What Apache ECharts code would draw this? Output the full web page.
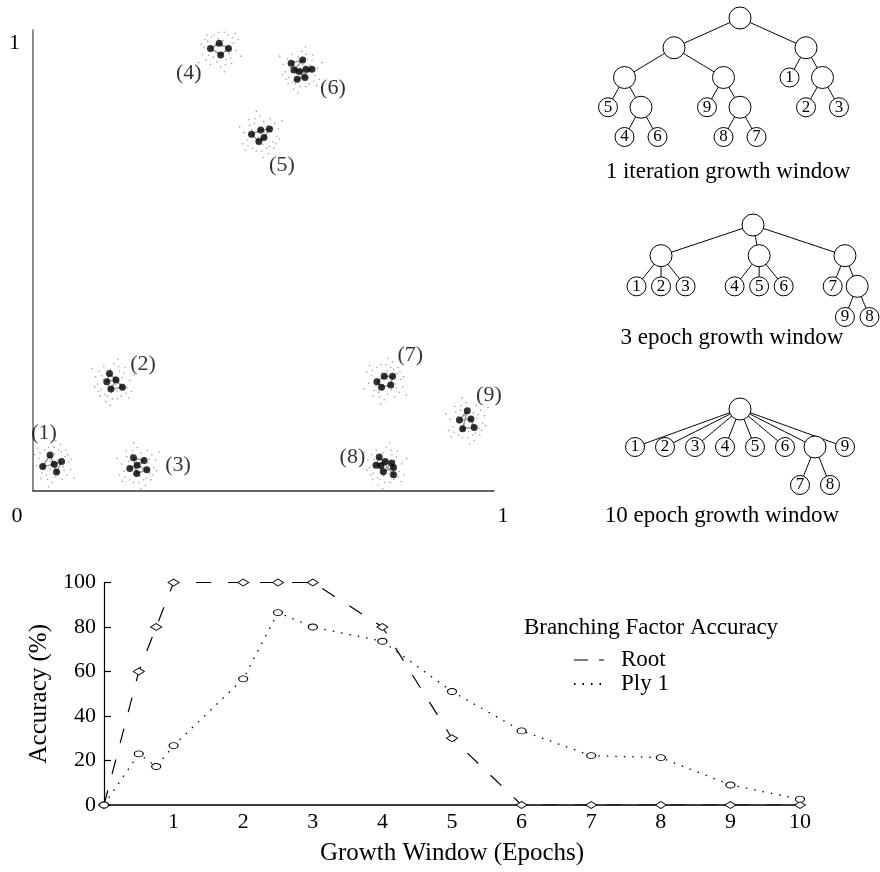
<!DOCTYPE html>
<html><head><meta charset="utf-8">
<script src="https://cdn.jsdelivr.net/npm/echarts@6/dist/echarts.min.js"></script>
<style>html,body{margin:0;padding:0;background:#fff}#c{width:880px;height:872px}</style>
</head><body><div id="c"></div>
<script>
// ---------- data ----------
const clusterNames = ['(1)','(2)','(3)','(4)','(5)','(6)','(7)','(8)','(9)'];
const clusterDots = [
  [[0.037,0.078],[0.021,0.053],[0.046,0.058],[0.062,0.064],[0.051,0.041]],
  [[0.166,0.255],[0.160,0.237],[0.180,0.241],[0.169,0.221],[0.194,0.225]],
  [[0.218,0.072],[0.241,0.066],[0.210,0.049],[0.226,0.056],[0.247,0.046],[0.225,0.038]],
  [[0.385,0.960],[0.404,0.971],[0.424,0.960],[0.407,0.946]],
  [[0.474,0.774],[0.494,0.783],[0.513,0.785],[0.501,0.767],[0.490,0.758]],
  [[0.560,0.928],[0.585,0.935],[0.566,0.913],[0.578,0.910],[0.592,0.915],[0.605,0.915],[0.573,0.893],[0.590,0.897]],
  [[0.746,0.237],[0.762,0.249],[0.780,0.249],[0.776,0.230],[0.756,0.225]],
  [[0.751,0.074],[0.744,0.056],[0.764,0.064],[0.755,0.055],[0.778,0.061],[0.760,0.042],[0.782,0.051],[0.782,0.035]],
  [[0.942,0.174],[0.925,0.154],[0.950,0.156],[0.957,0.138],[0.932,0.135]]
];
const speckleOffsets = [
  [-0.030,0.012],[-0.024,-0.020],[-0.018,0.030],[-0.012,-0.034],[-0.008,0.018],[-0.004,-0.012],
  [0.002,0.036],[0.006,-0.028],[0.010,0.008],[0.014,-0.018],[0.018,0.026],[0.022,-0.006],
  [0.026,0.016],[0.030,-0.024],[0.034,0.004],[-0.036,-0.004],[-0.028,0.024],[-0.020,-0.010],
  [-0.016,0.004],[-0.010,0.036],[-0.002,-0.040],[0.004,0.022],[0.012,0.030],[0.020,-0.034],
  [0.028,0.030],[0.038,-0.012],[-0.040,0.020],[-0.026,-0.032],[0.016,0.042],[0.032,0.020],
  [-0.006,0.006],[0.008,-0.006],[-0.014,-0.024],[0.024,-0.014],[-0.034,0.034],[0.040,0.010],
  [-0.046,-0.016],[0.046,-0.030],[-0.010,-0.050],[0.006,0.050]
];
const scatterTicks = [0, 1];

const tree1Spec = [[['5',['4','6']],['9',['8','7']]],['1',['2','3']]];
const tree3Spec = [['1','2','3'],['4','5','6'],['7',['9','8']]];
const tree10Spec = ['1','2','3','4','5','6',['7','8'],'9'];
const treeCaptions = ['1 iteration growth window','3 epoch growth window','10 epoch growth window'];

const epochs  = [0,0.5,0.75,1,2,2.5,3,4,5,6,7,8,9,10];
const rootAcc = [0,60,80,100,100,100,100,80,30,0,0,0,0,0];
const ply1Acc = [0,23,17.3,26.7,56.7,86.5,80,73.6,51,33.3,22.2,21.3,9,2.6];
const seriesNames = ['Root','Ply 1'];
const legendTitle = 'Branching Factor Accuracy';
const xTicks = [1,2,3,4,5,6,7,8,9,10];
const yTicks = [0,20,40,60,80,100];

// ---------- styles / positions ----------
const FONT = "'Liberation Serif','Times New Roman',serif";
const labelOffsets = [[-9,-31],[30,-18],[40,-1],[-31,24],[21,31],[32,18],[25,-26],[-33,-9],[22,-26]];

function centre(pts){
  let sx=0, sy=0; pts.forEach(p=>{sx+=p[0]; sy+=p[1];});
  return [sx/pts.length, sy/pts.length];
}
const dotsData = [];
clusterDots.forEach(c => c.forEach(p => dotsData.push(p)));
const speckData = [];
clusterDots.forEach((c, i) => {
  const ctr = centre(c);
  const sx = (i % 2 === 0) ? 1 : -1;
  const sy = (i % 3 === 0) ? 1 : -1;
  speckleOffsets.forEach(o => speckData.push([ctr[0] + sx*o[0], ctr[1] + sy*o[1]]));
});
const meshData = clusterDots.map(c => ({coords: c.concat([c[0]])}));
const labelData = clusterDots.map((c, i) => ({
  value: centre(c), name: clusterNames[i],
  label: {offset: labelOffsets[i]}
}));

function buildNode(spec){
  if (typeof spec === 'string') return {name: spec, symbolSize: 19};
  return {name: '', symbolSize: 22, children: spec.map(buildNode)};
}
function treeSeries(spec, box){
  return Object.assign({
    type: 'tree', data: [buildNode(spec)], orient: 'TB', symbol: 'circle',
    initialTreeDepth: -1, expandAndCollapse: false, roam: false, silent: true,
    itemStyle: {color: '#fff', borderColor: '#000', borderWidth: 1},
    lineStyle: {color: '#000', width: 1, curveness: 0},
    label: {show: true, position: 'inside', fontSize: 17, color: '#000', fontFamily: FONT},
    leaves: {label: {show: true, position: 'inside', fontSize: 17, color: '#000', fontFamily: FONT}},
    emphasis: {disabled: true}
  }, box);
}

const chart = echarts.init(document.getElementById('c'), null, {renderer: 'canvas'});
const option = {
  animation: false,
  backgroundColor: '#fff',
  textStyle: {fontFamily: FONT},
  grid: [
    {left: 33, top: 30, width: 461, height: 461},
    {left: 104, top: 582.5, width: 696, height: 222.5}
  ],
  xAxis: [
    {type: 'value', gridIndex: 0, min: scatterTicks[0], max: scatterTicks[1], interval: 1,
     axisLine: {show: true, onZero: false, lineStyle: {color: '#333', width: 1.5}},
     axisTick: {show: false}, splitLine: {show: false},
     axisLabel: {margin: 14, fontSize: 22, color: '#000', fontFamily: FONT,
       formatter: v => v === scatterTicks[0] ? '{a|' + v + '}' : '{b|' + v + '}',
       rich: {a: {fontSize: 22, fontFamily: FONT, color: '#000', padding: [0, 32, 0, 0]},
              b: {fontSize: 22, fontFamily: FONT, color: '#000', padding: [0, 0, 0, 18]}}}},
    {type: 'value', gridIndex: 1, min: 0, max: 10, interval: 1,
     name: 'Growth Window (Epochs)', nameLocation: 'middle', nameGap: 36,
     nameTextStyle: {fontSize: 25, color: '#000', fontFamily: FONT},
     axisLine: {show: true, onZero: false, lineStyle: {color: '#000', width: 1.5}},
     axisTick: {show: false}, splitLine: {show: false},
     axisLabel: {margin: 6, fontSize: 22, color: '#000', fontFamily: FONT,
       formatter: v => xTicks.indexOf(v) >= 0 ? String(v) : ''}}
  ],
  yAxis: [
    {type: 'value', gridIndex: 0, min: scatterTicks[0], max: scatterTicks[1], interval: 1,
     axisLine: {show: true, onZero: false, lineStyle: {color: '#666', width: 1.5}},
     axisTick: {show: false}, splitLine: {show: false},
     axisLabel: {margin: 13, fontSize: 22, color: '#000', fontFamily: FONT,
       formatter: v => v === scatterTicks[1] ? '{c|' + v + '}' : '',
       rich: {c: {fontSize: 22, fontFamily: FONT, color: '#000', padding: [26, 0, 0, 0]}}}},
    {type: 'value', gridIndex: 1, min: 0, max: 100, interval: 20,
     name: 'Accuracy (%)', nameLocation: 'middle', nameGap: 52, nameRotate: 90,
     nameTextStyle: {fontSize: 25, color: '#000', fontFamily: FONT},
     axisLine: {show: true, onZero: false, lineStyle: {color: '#000', width: 1.2}},
     axisTick: {show: true, inside: true, length: 7, lineStyle: {color: '#000', width: 1.2}},
     splitLine: {show: false},
     axisLabel: {margin: 8, fontSize: 22, color: '#000', fontFamily: FONT,
       formatter: v => yTicks.indexOf(v) >= 0 ? String(v) : ''}}
  ],
  legend: {
    data: [
      {name: seriesNames[0], itemStyle: {opacity: 0}, lineStyle: {type: [14, 11], width: 1.2}},
      {name: seriesNames[1], itemStyle: {opacity: 0}}
    ],
    orient: 'vertical', left: 568, top: 643, itemWidth: 30, itemHeight: 12, itemGap: 0,
    selectedMode: false,
    textStyle: {fontSize: 23, color: '#000', fontFamily: FONT, lineHeight: 24, padding: [0, 0, 0, 12]}
  },
  graphic: [
    {type: 'text', x: 728, y: 172, style: {text: treeCaptions[0], textAlign: 'center', textVerticalAlign: 'middle', fontSize: 23, fontFamily: FONT, fill: '#000'}},
    {type: 'text', x: 732, y: 338, style: {text: treeCaptions[1], textAlign: 'center', textVerticalAlign: 'middle', fontSize: 23, fontFamily: FONT, fill: '#000'}},
    {type: 'text', x: 722, y: 516, style: {text: treeCaptions[2], textAlign: 'center', textVerticalAlign: 'middle', fontSize: 23, fontFamily: FONT, fill: '#000'}},
    {type: 'text', x: 651, y: 628, style: {text: legendTitle, textAlign: 'center', textVerticalAlign: 'middle', fontSize: 23, fontFamily: FONT, fill: '#000'}}
  ],
  series: [
    {type: 'lines', coordinateSystem: 'cartesian2d', xAxisIndex: 0, yAxisIndex: 0, polyline: true,
     data: meshData, silent: true, z: 1, lineStyle: {color: '#999', width: 1.4, opacity: 1}},
    {type: 'scatter', xAxisIndex: 0, yAxisIndex: 0, data: speckData, symbolSize: 1.6, silent: true, z: 2,
     itemStyle: {color: '#8a8a8a'}},
    {type: 'scatter', xAxisIndex: 0, yAxisIndex: 0, data: dotsData, symbolSize: 7, silent: true, z: 3,
     itemStyle: {color: '#000'}},
    {type: 'scatter', xAxisIndex: 0, yAxisIndex: 0, data: labelData, symbolSize: 1, silent: true, z: 4,
     itemStyle: {color: 'transparent'},
     label: {show: true, position: 'inside', formatter: '{b}', fontSize: 22, color: '#000', fontFamily: FONT}},
    treeSeries(tree1Spec, {left: 575, top: 18, width: 297, height: 119}),
    treeSeries(tree3Spec, {left: 612, top: 225, width: 282, height: 92}),
    treeSeries(tree10Spec, {left: 620, top: 409, width: 240, height: 76}),
    {type: 'line', name: seriesNames[0], xAxisIndex: 1, yAxisIndex: 1,
     data: epochs.map((e, i) => [e, rootAcc[i]]),
     symbol: 'diamond', symbolSize: [11, 7], showAllSymbol: true, z: 5,
     itemStyle: {color: '#fff', borderColor: '#000', borderWidth: 1},
     lineStyle: {color: '#000', width: 1.2, type: [15, 17]}},
    {type: 'line', name: seriesNames[1], xAxisIndex: 1, yAxisIndex: 1,
     data: epochs.map((e, i) => [e, ply1Acc[i]]),
     symbol: 'circle', symbolSize: [9, 6], showAllSymbol: true, z: 5,
     itemStyle: {color: '#fff', borderColor: '#000', borderWidth: 1},
     lineStyle: {color: '#000', width: 1.3, type: [1.5, 7]}}
  ]
};
chart.setOption(option);
</script></body></html>
